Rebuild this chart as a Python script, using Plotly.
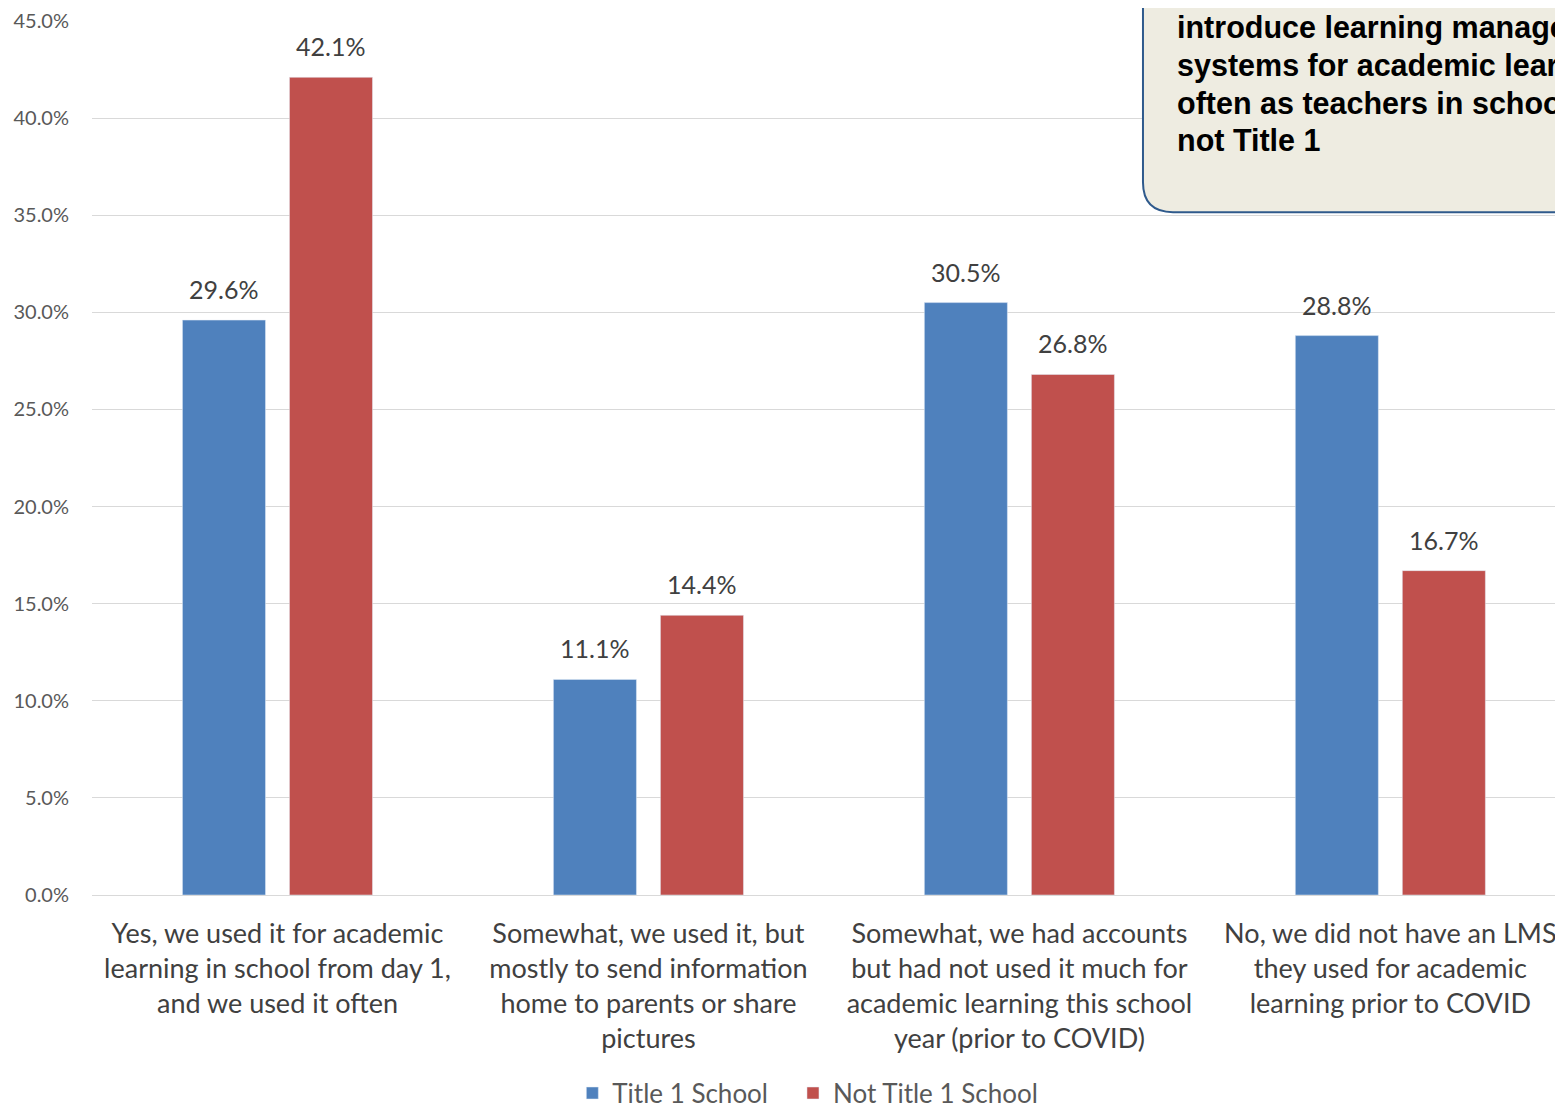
import plotly.graph_objects as go

categories = [
    "Yes, we used it for academic<br>learning in school from day 1,<br>and we used it often",
    "Somewhat, we used it, but<br>mostly to send information<br>home to parents or share<br>pictures",
    "Somewhat, we had accounts<br>but had not used it much for<br>academic learning this school<br>year (prior to COVID)",
    "No, we did not have an LMS<br>they used for academic<br>learning prior to COVID",
]
title1 = [29.6, 11.1, 30.5, 28.8]
not_title1 = [42.1, 14.4, 26.8, 16.7]
series_names = ["Title 1 School", "Not Title 1 School"]
y_ticks = [0, 5, 10, 15, 20, 25, 30, 35, 40, 45]
box_lines = ["introduce learning management", "systems for academic learning",
             "often as teachers in schools", "not Title 1"]

BLUE = "#4F81BD"
RED = "#C0504D"
FONT = "Lato"
PAD = "\u00a0" * 3

fig = go.Figure()
fig.add_trace(go.Bar(x=categories, y=title1, name=series_names[0] + PAD, marker_color=BLUE))
fig.add_trace(go.Bar(x=categories, y=not_title1, name=series_names[1], marker_color=RED))

# data labels
for vals, shift in ((title1, -53.5), (not_title1, 53.5)):
    for c, v in zip(categories, vals):
        fig.add_annotation(x=c, y=v, text=f"{v:.1f}%", showarrow=False,
                           xshift=shift, yshift=14, yanchor="bottom",
                           font=dict(family=FONT, size=25, color="#404040"))

# callout box (partially outside the picture, like the reference)
x0, y0 = 0.7106, 0.7804
rx, ry = 0.0203, 0.0341
fig.add_shape(type="path", xref="paper", yref="paper",
              path=f"M {x0},1.2 L {x0},{y0+ry} Q {x0},{y0} {x0+rx},{y0} L 1.1,{y0} L 1.1,1.2 Z",
              fillcolor="#EEECE1", line=dict(color="#2F5A8C", width=2), layer="above")
for line, yy in zip(box_lines, [0.9909, 0.9480, 0.9051, 0.8624]):
    fig.add_annotation(xref="paper", yref="paper", x=0.7322, y=yy, xanchor="left",
                       yanchor="middle", align="left", showarrow=False, text=f"<b>{line}</b>",
                       font=dict(family="Liberation Sans", size=30.5, color="#000000"))

fig.update_layout(
    width=1563, height=1109,
    margin=dict(l=84, r=0, t=9, b=221),
    paper_bgcolor="white", plot_bgcolor="white",
    barmode="group", bargap=0.423, bargroupgap=0.224,
    showlegend=True,
    legend=dict(orientation="h", x=0.484, xanchor="center", y=-0.2264, yanchor="middle",
                font=dict(family=FONT, size=26, color="#595959"), itemwidth=30,
                traceorder="normal"),
    font=dict(family=FONT),
)
fig.update_xaxes(range=[-0.5, 3.487], tickfont=dict(family=FONT, size=27, color="#404040"),
                 showline=False, ticks="", showgrid=False, ticklabelstandoff=20)
fig.update_yaxes(range=[0, 45.05], tickvals=y_ticks, ticktext=[f"{t:.1f}%" for t in y_ticks],
                 tickfont=dict(family=FONT, size=20, color="#595959"),
                 ticklabeloverflow="allow",
                 showgrid=True, gridcolor="#D9D9D9", gridwidth=1, zeroline=True,
                 zerolinecolor="#D9D9D9", zerolinewidth=1, ticklabelstandoff=22)

fig.write_html("out.html")
